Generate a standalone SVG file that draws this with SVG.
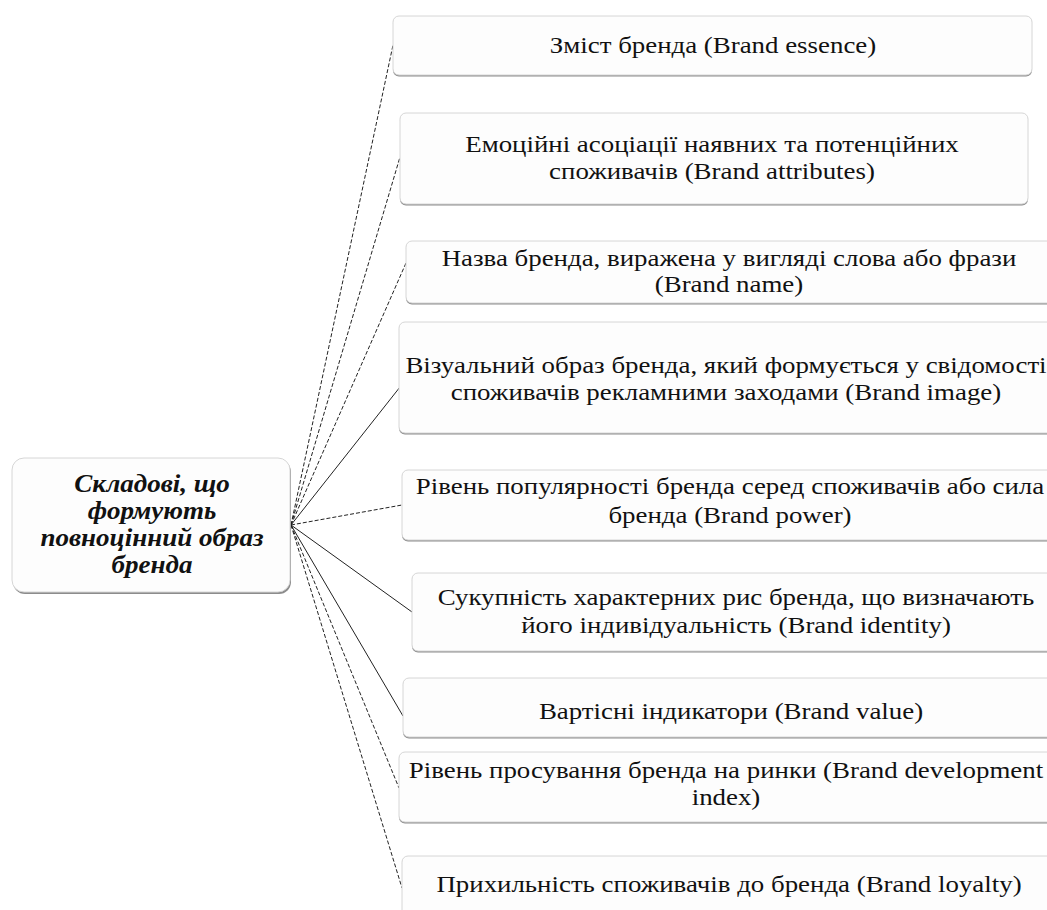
<svg xmlns="http://www.w3.org/2000/svg" width="1047" height="910" viewBox="0 0 1047 910">
<style>
.box{fill:#fdfdfd;stroke:#d6d6d6;stroke-width:1}
.sh{fill:#8c8c8c}
.t{font-family:'Liberation Serif','DejaVu Serif',serif;font-size:24px;fill:#111;text-anchor:middle}
.m{font-family:'Liberation Serif','DejaVu Serif',serif;font-size:26px;font-weight:bold;font-style:italic;fill:#111;text-anchor:middle}
.c{stroke:#222;stroke-width:1;fill:none}
.d{stroke-dasharray:4 2}
</style>
<rect width="1047" height="910" fill="#ffffff"/>
<g id="connectors">
<line class="c d" x1="291" y1="525" x2="393" y2="45"/>
<line class="c d" x1="291" y1="525" x2="400" y2="157"/>
<line class="c d" x1="291" y1="525" x2="406" y2="263"/>
<line class="c" x1="291" y1="525" x2="400" y2="387"/>
<line class="c d" x1="291" y1="525" x2="402" y2="505"/>
<line class="c" x1="291" y1="525" x2="412" y2="612"/>
<line class="c" x1="291" y1="525" x2="403" y2="716"/>
<line class="c d" x1="291" y1="525" x2="399" y2="788"/>
<line class="c d" x1="291" y1="525" x2="402" y2="888"/>
</g>
<g id="main">
<rect class="sh" x="13" y="460" width="278" height="134" rx="12"/>
<rect class="box" x="12" y="458" width="278" height="134" rx="12"/>
<text class="m" transform="translate(152 492) scale(1.04 1)">Складові, що</text>
<text class="m" transform="translate(152 519) scale(1.04 1)">формують</text>
<text class="m" transform="translate(152 546) scale(1.04 1)">повноцінний образ</text>
<text class="m" transform="translate(152 573) scale(1.04 1)">бренда</text>
</g>
<g id="n1">
<rect class="sh" x="393" y="17.5" width="639" height="59" rx="6"/>
<rect class="box" x="393" y="16" width="639" height="59" rx="6"/>
<text class="t" transform="translate(713 53) scale(1.12 1)">Зміст бренда (Brand essence)</text>
</g>
<g id="n2">
<rect class="sh" x="400" y="114.5" width="628" height="91" rx="6"/>
<rect class="box" x="400" y="113" width="628" height="91" rx="6"/>
<text class="t" transform="translate(712 152) scale(1.12 1)">Емоційні асоціації наявних та потенційних</text>
<text class="t" transform="translate(712 179) scale(1.12 1)">споживачів (Brand attributes)</text>
</g>
<g id="n3">
<rect class="sh" x="406" y="242.5" width="660" height="62" rx="6"/>
<rect class="box" x="406" y="241" width="660" height="62" rx="6"/>
<text class="t" transform="translate(729 266) scale(1.12 1)">Назва бренда, виражена у вигляді слова або фрази</text>
<text class="t" transform="translate(729 292) scale(1.12 1)">(Brand name)</text>
</g>
<g id="n4">
<rect class="sh" x="399" y="323.5" width="660" height="111" rx="6"/>
<rect class="box" x="399" y="322" width="660" height="111" rx="6"/>
<text class="t" transform="translate(726 373) scale(1.12 1)">Візуальний образ бренда, який формується у свідомості</text>
<text class="t" transform="translate(726 400) scale(1.12 1)">споживачів рекламними заходами (Brand image)</text>
</g>
<g id="n5">
<rect class="sh" x="402" y="471.5" width="660" height="70" rx="6"/>
<rect class="box" x="402" y="470" width="660" height="70" rx="6"/>
<text class="t" transform="translate(730 494) scale(1.12 1)">Рівень популярності бренда серед споживачів або сила</text>
<text class="t" transform="translate(730 523) scale(1.12 1)">бренда (Brand power)</text>
</g>
<g id="n6">
<rect class="sh" x="412" y="574.5" width="660" height="78" rx="6"/>
<rect class="box" x="412" y="573" width="660" height="78" rx="6"/>
<text class="t" transform="translate(736 605) scale(1.12 1)">Сукупність характерних рис бренда, що визначають</text>
<text class="t" transform="translate(736 633) scale(1.12 1)">його індивідуальність (Brand identity)</text>
</g>
<g id="n7">
<rect class="sh" x="403" y="679.5" width="660" height="59" rx="6"/>
<rect class="box" x="403" y="678" width="660" height="59" rx="6"/>
<text class="t" transform="translate(731 719) scale(1.12 1)">Вартісні індикатори (Brand value)</text>
</g>
<g id="n8">
<rect class="sh" x="399" y="753.5" width="660" height="70" rx="6"/>
<rect class="box" x="399" y="752" width="660" height="70" rx="6"/>
<text class="t" transform="translate(726 778) scale(1.12 1)">Рівень просування бренда на ринки (Brand development</text>
<text class="t" transform="translate(726 805) scale(1.12 1)">index)</text>
</g>
<g id="n9">
<rect class="sh" x="402" y="857.5" width="660" height="70" rx="6"/>
<rect class="box" x="402" y="856" width="660" height="70" rx="6"/>
<text class="t" transform="translate(729 892) scale(1.12 1)">Прихильність споживачів до бренда (Brand loyalty)</text>
</g>
</svg>
